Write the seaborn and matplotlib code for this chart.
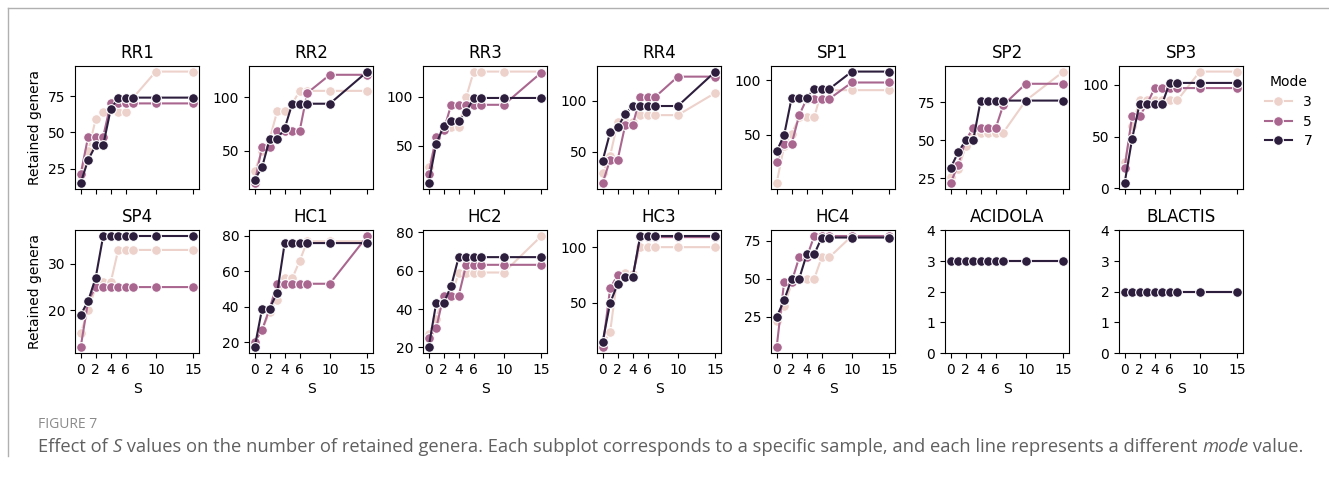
import numpy as np
import pandas as pd
import matplotlib
matplotlib.use("Agg")
import matplotlib.pyplot as plt
from matplotlib.lines import Line2D
import seaborn as sns

# ---------------- data ----------------
S = [0, 1, 2, 3, 4, 5, 6, 7, 10, 15]
modes = [3, 5, 7]
samples = ["RR1", "RR2", "RR3", "RR4", "SP1", "SP2", "SP3",
           "SP4", "HC1", "HC2", "HC3", "HC4", "ACIDOLA", "BLACTIS"]
xtick_values = [0, 2, 4, 6, 10, 15]

RR1 = {3: [20, 37, 59, 64, 66, 64, 64, 74, 92, 92],
       5: [21, 47, 47, 47, 70, 70, 70, 70, 70, 70],
       7: [15, 31, 41, 41, 66, 74, 74, 74, 74, 74]}
RR2 = {3: [31, 50, 61, 87, 87, 94, 106, 106, 106, 106],
       5: [20, 54, 54, 69, 69, 69, 69, 104, 121, 121],
       7: [23, 35, 61, 61, 71, 94, 94, 94, 94, 124]}
RR3 = {3: [28, 55, 66, 69, 69, 100, 126, 126, 126, 126],
       5: [21, 59, 66, 92, 92, 92, 92, 92, 92, 125],
       7: [12, 52, 70, 75, 75, 85, 99, 99, 99, 99]}
RR4 = {3: [29, 46, 79, 79, 79, 86, 86, 86, 86, 108],
       5: [19, 42, 42, 76, 76, 104, 104, 104, 124, 124],
       7: [41, 69, 74, 87, 95, 95, 95, 95, 95, 129]}
SP1 = {3: [6, 40, 51, 66, 66, 66, 91, 91, 91, 91],
       5: [25, 42, 42, 68, 83, 83, 83, 83, 98, 98],
       7: [35, 50, 84, 84, 84, 92, 92, 92, 108, 108]}
SP2 = {3: [26, 31, 46, 55, 55, 55, 55, 55, 76, 95],
       5: [22, 34, 50, 58, 58, 58, 58, 73, 87, 87],
       7: [32, 42, 50, 50, 76, 76, 76, 76, 76, 76]}
SP3 = {3: [25, 60, 85, 85, 85, 85, 85, 85, 113, 113],
       5: [20, 70, 70, 82, 97, 97, 97, 97, 97, 97],
       7: [5, 48, 82, 82, 82, 82, 102, 102, 102, 102]}
SP4 = {3: [15, 20, 25, 26, 26, 33, 33, 33, 33, 33],
       5: [12, 22, 25, 25, 25, 25, 25, 25, 25, 25],
       7: [19, 22, 27, 36, 36, 36, 36, 36, 36, 36]}
HC1 = {3: [20, 27, 37, 44, 56, 56, 66, 77, 77, 77],
       5: [20, 27, 39, 53, 53, 53, 53, 53, 53, 80],
       7: [17, 39, 39, 48, 76, 76, 76, 76, 76, 76]}
HC2 = {3: [27, 35, 47, 46, 59, 59, 59, 59, 59, 78],
       5: [25, 30, 47, 47, 47, 63, 63, 63, 63, 63],
       7: [20, 43, 43, 52, 67, 67, 67, 67, 67, 67]}
HC3 = {3: [12, 24, 75, 77, 76, 100, 100, 100, 100, 100],
       5: [10, 63, 75, 73, 73, 109, 109, 109, 109, 109],
       7: [15, 50, 67, 73, 73, 110, 110, 110, 110, 110]}
HC4 = {3: [22, 32, 47, 50, 50, 50, 64, 64, 78, 78],
       5: [5, 48, 48, 64, 64, 78, 78, 78, 78, 78],
       7: [25, 36, 50, 50, 66, 66, 77, 77, 77, 77]}
ACIDOLA = {3: [3] * 10, 5: [3] * 10, 7: [3] * 10}
BLACTIS = {3: [2] * 10, 5: [2] * 10, 7: [2] * 10}

sample_data = [RR1, RR2, RR3, RR4, SP1, SP2, SP3,
               SP4, HC1, HC2, HC3, HC4, ACIDOLA, BLACTIS]
constant_samples = ["ACIDOLA", "BLACTIS"]

caption_label = "FIGURE 7"
caption_parts = [("Effect of ", "normal"), ("S", "italic"),
                 (" values on the number of retained genera. Each subplot corresponds to a specific sample, "
                  "and each line represents a different ", "normal"),
                 ("mode", "italic"), (" value.", "normal")]

# ---------------- long table ----------------
rows = []
for name, d in zip(samples, sample_data):
    for m in modes:
        for s, v in zip(S, d[m]):
            rows.append({"Sample": name, "S": s, "Retained genera": v, "Mode": m})
df = pd.DataFrame(rows)

# ---------------- figure ----------------
W, H = 1329, 479
fig = plt.figure(figsize=(W / 100, H / 100), dpi=100)
fig.patch.set_facecolor("white")

nrows, ncols = 2, 7
axes = fig.subplots(nrows, ncols, sharex=True)
fig.subplots_adjust(left=75 / W, right=1243 / W, top=1 - 66 / H, bottom=1 - 353 / H,
                    wspace=50 / 124, hspace=42 / 123)

for i, name in enumerate(samples):
    ax = axes.flat[i]
    sub = df[df["Sample"] == name]
    sns.lineplot(data=sub, x="S", y="Retained genera", hue="Mode", hue_norm=(3, 7),
                 marker="o", markersize=7, markeredgecolor="white", markeredgewidth=0.8,
                 ax=ax, legend="full" if i == 0 else False)
    ax.set_title(name, fontsize=12)
    ax.set_xticks(xtick_values)
    if name in constant_samples:
        ax.set_ylim(0, 4)
        ax.set_yticks([0, 1, 2, 3, 4])
    if i % ncols != 0:
        ax.set_ylabel("")
    else:
        ax.set_ylabel("Retained genera", fontsize=10)
    if i < ncols:
        ax.set_xlabel("")
    else:
        ax.set_xlabel("S", fontsize=10)

handles, labels = axes.flat[0].get_legend_handles_labels()
axes.flat[0].get_legend().remove()
fig.legend(handles, labels, title="Mode", loc="upper left",
           bbox_to_anchor=(1252 / W, 1 - 63 / H), frameon=False,
           fontsize=10, title_fontsize=10, labelspacing=0.4)

# page frame lines
fig.add_artist(Line2D([8 / W, 8 / W], [1 - 8 / H, 1 - 456 / H], color="#b0b0b0", lw=1))
fig.add_artist(Line2D([8 / W, 1.0], [1 - 8 / H, 1 - 8 / H], color="#b0b0b0", lw=1))

# caption
x0 = 38
fig.text(x0 / W, 1 - 424 / H, caption_label, fontsize=10, family="Open Sans",
         color="#8a8a8a", va="center", ha="left")

fig.canvas.draw()
renderer = fig.canvas.get_renderer()
x = x0
for txt, style in caption_parts:
    t = fig.text(x / W, 1 - 447 / H, txt, fontsize=13.2, family="Open Sans",
                 style=style, color="#606060", va="center", ha="left")
    bb = t.get_window_extent(renderer=renderer)
    x = bb.x1

fig.savefig("out.png", dpi=100, facecolor="white")
